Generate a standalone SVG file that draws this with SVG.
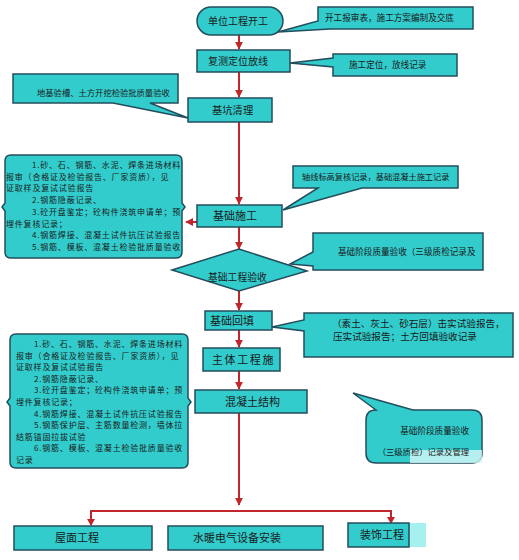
<svg xmlns="http://www.w3.org/2000/svg" width="519" height="560" viewBox="0 0 519 560">
<style>
.n{fill:#33CCCC;stroke:#234d5c;stroke-width:1.5}
.t{font-family:"Noto Sans CJK SC","Liberation Sans",sans-serif;fill:#1a1a1a}
.m{font-size:11px}
.s{font-size:8.6px}
.k{font-size:8px;letter-spacing:0.8px}
.c{stroke:#c0262b;stroke-width:2;fill:none}
</style>
<defs>
<marker id="ah" viewBox="0 0 10 10" refX="9" refY="5" markerWidth="4" markerHeight="4" orient="auto">
<path d="M0,0 L10,5 L0,10 Z" fill="#c0262b"/>
</marker>
</defs>
<rect width="519" height="560" fill="#fff"/>
<g id="connectors">
<line class="c" x1="239" y1="35" x2="239" y2="49" marker-end="url(#ah)"/>
<line class="c" x1="239" y1="72" x2="239" y2="97" marker-end="url(#ah)"/>
<line class="c" x1="239" y1="122" x2="239" y2="204" marker-end="url(#ah)"/>
<line class="c" x1="239" y1="227" x2="239" y2="249" marker-end="url(#ah)"/>
<line class="c" x1="239" y1="291" x2="239" y2="310" marker-end="url(#ah)"/>
<line class="c" x1="239" y1="330" x2="239" y2="347" marker-end="url(#ah)"/>
<line class="c" x1="239" y1="371" x2="239" y2="389" marker-end="url(#ah)"/>
<line class="c" x1="239" y1="413" x2="239" y2="505" marker-end="url(#ah)"/>
<polyline class="c" points="91,525 91,511 391,511 391,523"/>
<path d="M87,519 L95,519 L91,526 Z M387,517 L395,517 L391,524 Z" fill="#c0262b"/>
<line class="c" x1="197" y1="222" x2="186" y2="222" marker-end="url(#ah)"/>
</g>
<g id="start">
<rect class="n" x="197" y="7" width="86" height="28" rx="14"/>
<text class="t" x="208" y="25" font-size="10">单位工程开工</text>
</g>
<g id="callout1">
<path class="n" d="M318,7 H473 V29 H330 L278,32 L318,21 Z"/>
<text class="t s" x="325" y="21">开工报审表，施工方案编制及交底</text>
</g>
<g id="survey">
<rect class="n" x="197" y="50" width="93" height="22"/>
<text class="t" x="208" y="65" font-size="10">复测定位放线</text>
</g>
<g id="callout2">
<path class="n" d="M333,54 H457 V76 H333 V67 L290,63 L333,58 Z"/>
<text class="t s" x="349" y="68">施工定位，放线记录</text>
</g>
<g id="pit">
<rect class="n" x="188" y="98" width="84" height="24"/>
<text class="t" x="212" y="114" font-size="10.3">基坑清理</text>
</g>
<g id="callout3">
<path class="n" d="M13,74 H178 V103 H150 L188,118 L113,103 H13 Z"/>
<text class="t" x="37" y="96" font-size="8.3">地基验槽、土方开挖检验批质量验收</text>
</g>
<g id="notes1">
<path class="n" d="M11,155 H176 Q182,155 182,161 V203 L185,207 L182,211 V252 Q182,258 176,258 H11 Q5,258 5,252 V211 L2,207 L5,203 V161 Q5,155 11,155 Z"/>
<g class="t k">
<text x="32" y="168">1.砂、石、钢筋、水泥、焊条进场材料</text>
<text x="6" y="179.7">报审（合格证及检验报告、厂家资质），见</text>
<text x="6" y="191.4">证取样及复试试验报告</text>
<text x="32" y="203.1">2.钢筋隐蔽记录、</text>
<text x="32" y="214.8">3.砼开盘鉴定；砼构件浇筑申请单；预</text>
<text x="6" y="226.5">埋件复核记录；</text>
<text x="32" y="238.2">4.钢筋焊接、混凝土试件抗压试验报告</text>
<text x="32" y="249.9">5.钢筋、模板、混凝土检验批质量验收</text>
</g>
</g>
<g id="foundation">
<rect class="n" x="197" y="205" width="85" height="22"/>
<text class="t m" x="213" y="220">基础施工</text>
</g>
<g id="callout4">
<path class="n" d="M293,166 H458 V188 H362 L283,210 L318,188 H293 Z"/>
<text class="t" x="302" y="180" font-size="8.2">轴线标高复核记录，基础混凝土施工记录</text>
</g>
<g id="acceptance">
<polygon class="n" points="172,270 239,249 307,271 239,291"/>
<text class="t" x="208" y="281" font-size="9.8">基础工程验收</text>
</g>
<g id="callout5">
<path class="n" d="M313,233 H483 V270 H313 V266 L290,264 L313,252 Z"/>
<text class="t s" x="338" y="255">基础阶段质量验收（三级质检记录及</text>
</g>
<g id="backfill">
<rect class="n" x="205" y="311" width="67" height="19"/>
<text class="t m" x="210" y="325">基础回填</text>
</g>
<g id="callout6">
<path class="n" d="M304,313 H513 V357 H304 V331 L272,327 L304,320 Z"/>
<text class="t" x="332" y="327" font-size="9.6">（素土、灰土、砂石层）击实试验报告，</text>
<text class="t" x="333" y="340" font-size="9.6">压实试验报告；土方回填验收记录</text>
</g>
<g id="main">
<rect class="n" x="203" y="348" width="77" height="23"/>
<text class="t m" x="212" y="364" letter-spacing="1.6">主体工程施</text>
</g>
<g id="notes2">
<path class="n" d="M16,334 H182 Q188,334 188,340 V398 L191,402 L188,406 V462 Q188,468 182,468 H16 Q10,468 10,462 V406 L7,402 L10,398 V340 Q10,334 16,334 Z"/>
<g class="t k">
<text x="34" y="347">1.砂、石、钢筋、水泥、焊条进场材料</text>
<text x="16" y="358.6">报审（合格证及检验报告、厂家资质），见</text>
<text x="16" y="370.2">证取样及复试试验报告</text>
<text x="34" y="381.8">2.钢筋隐蔽记录、</text>
<text x="34" y="393.4">3.砼开盘鉴定；砼构件浇筑申请单；预</text>
<text x="16" y="405">埋件复核记录；</text>
<text x="34" y="416.6">4.钢筋焊接、混凝土试件抗压试验报告</text>
<text x="34" y="428.2">5.钢筋保护层、主筋数量检测，墙体拉</text>
<text x="16" y="439.8">结筋锚固拉拔试验</text>
<text x="34" y="451.4">6.钢筋、模板、混凝土检验批质量验收</text>
<text x="16" y="463">记录</text>
</g>
</g>
<g id="concrete">
<rect class="n" x="195" y="390" width="112" height="23"/>
<text class="t m" x="225" y="406">混凝土结构</text>
</g>
<g id="callout7">
<path class="n" d="M376,410 L353,393 L413,410 H472 Q482,410 482,420 V453 Q482,463 472,463 H376 Q366,463 366,453 V420 Q366,410 376,410 Z"/>
<text class="t s" x="469" y="434" text-anchor="end">基础阶段质量验收</text>
<rect x="410" y="450" width="72" height="13" fill="#d6f7f7" opacity="0.8"/>
<text class="t" x="469" y="455" font-size="8.3" text-anchor="end">（三级质检）记录及管理</text>
</g>
<g id="roof">
<rect class="n" x="14" y="526" width="138" height="24"/>
<text class="t m" x="55" y="542">屋面工程</text>
</g>
<g id="mep">
<rect class="n" x="168" y="526" width="155" height="24"/>
<text class="t m" x="193" y="542">水暖电气设备安装</text>
</g>
<g id="decor">
<rect x="409" y="523" width="17" height="24" fill="#a6f0f0"/>
<rect class="n" x="348" y="523" width="61" height="24"/>
<text class="t m" x="360" y="539">装饰工程</text>
</g>
</svg>
